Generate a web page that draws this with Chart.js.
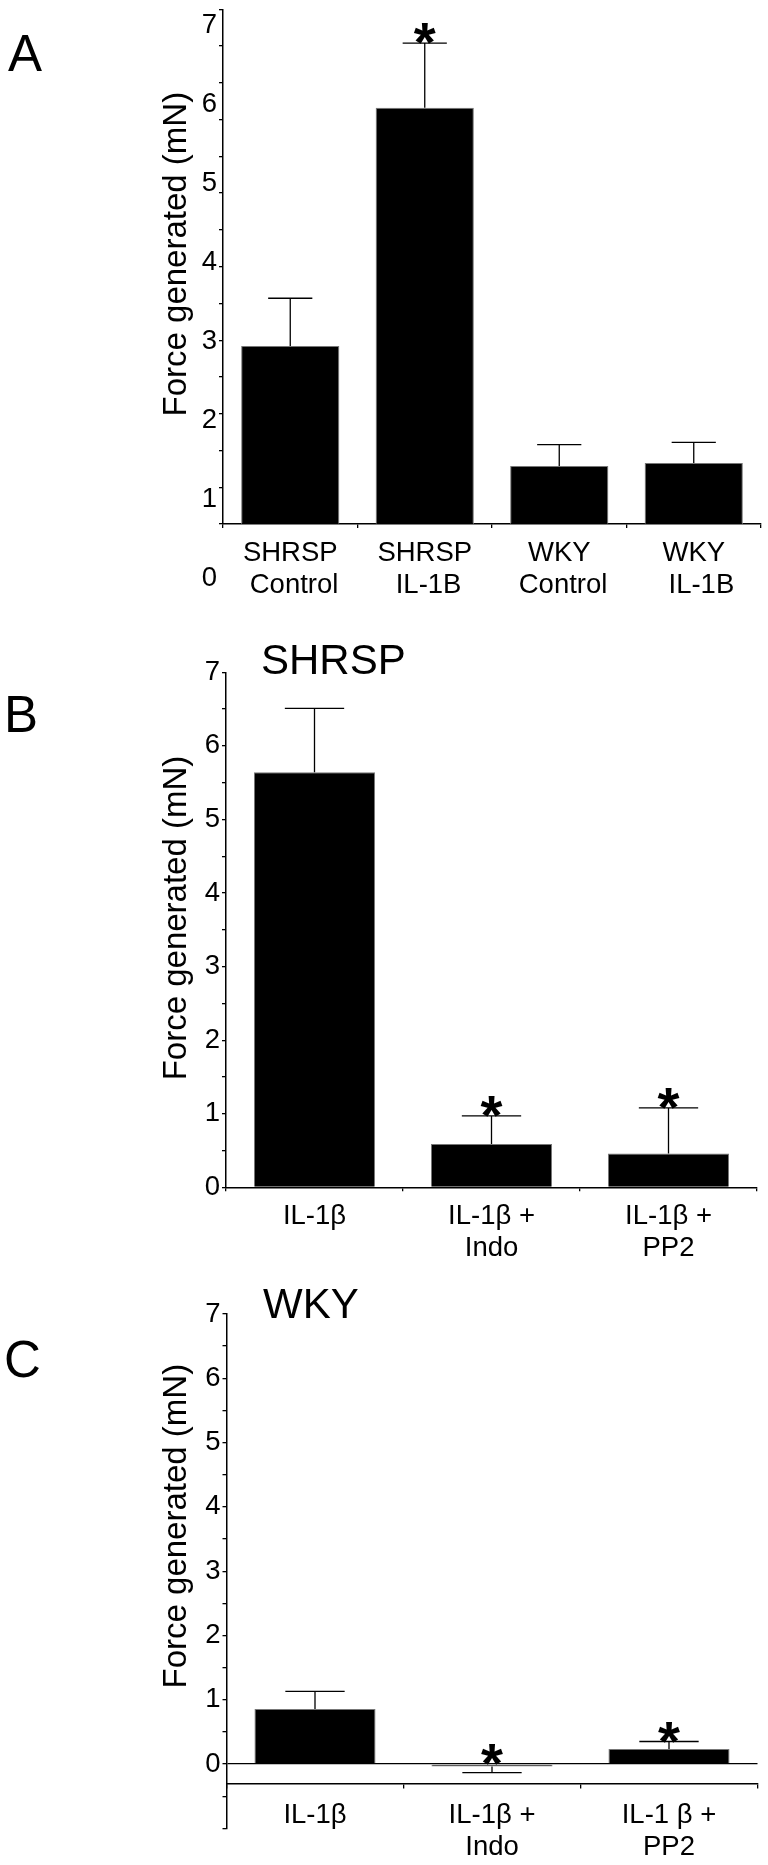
<!DOCTYPE html>
<html>
<head>
<meta charset="utf-8">
<script src="https://cdn.jsdelivr.net/npm/chart.js@4.4.1/dist/chart.umd.min.js"></script>
<style>
  html, body { margin: 0; padding: 0; background: #fff; }
  #page { position: relative; width: 768px; height: 1865px; overflow: hidden;
          font-family: 'Liberation Sans', Arial, sans-serif; color: #000; background: #fff; }
  canvas { position: absolute; left: 0; }
  .lbl { position: absolute; line-height: 1; white-space: nowrap; }
  .letter { font-size: 51px; }
  .ptitle { font-size: 42px; }
</style>
</head>
<body>
<div id="page">
  <canvas id="chartA" width="768" height="625" style="top:0px"></canvas>
  <canvas id="chartB" width="768" height="645" style="top:625px"></canvas>
  <canvas id="chartC" width="768" height="595" style="top:1270px"></canvas>
  <div class="lbl letter" style="left:8px; top:28px">A</div>
  <div class="lbl letter" style="left:4px; top:689px">B</div>
  <div class="lbl letter" style="left:4px; top:1334px">C</div>
  <div class="lbl ptitle" style="left:261px; top:639px">SHRSP</div>
  <div class="lbl ptitle" style="left:263px; top:1283px">WKY</div>
</div>
<script>
// panel A
const catsA = [['SHRSP', ' Control'], ['SHRSP', ' IL-1B'], ['WKY', ' Control'], ['WKY', '  IL-1B']];
const meanA = [2.92, 6.16, 1.29, 1.33];
const errA = [0.65, 0.88, 0.29, 0.28];
const starA = [false, true, false, false];

// panel B (SHRSP)
const catsB = ['IL-1β', ['IL-1β +', 'Indo'], ['IL-1β +', 'PP2']];
const meanB = [5.64, 0.59, 0.46];
const errB = [0.87, 0.38, 0.62];
const starB = [false, true, true];

// panel C (WKY)
const catsC = ['IL-1β', ['IL-1β +', 'Indo'], ['IL-1 β +', 'PP2']];
const meanC = [0.855, -0.04, 0.235];
const errC = [0.275, 0.095, 0.115];
const starC = [false, true, true];

const yLabels = [0, 1, 2, 3, 4, 5, 6, 7];
const yTitle = 'Force generated (mN)';

const FONT = "'Liberation Sans', Arial, sans-serif";
Chart.defaults.font.family = FONT;
Chart.defaults.color = '#000';

// error bars, stars and the rotated y title
const decor = {
  id: 'decor',
  afterDatasetsDraw(chart, args, o) {
    const ctx = chart.ctx, ys = chart.scales.y;
    const vals = chart.data.datasets[0].data;
    ctx.save();
    ctx.strokeStyle = '#000';
    ctx.lineWidth = 1.3;
    chart.getDatasetMeta(0).data.forEach((bar, i) => {
      const {x, width} = bar.getProps(['x', 'width'], true);
      const v = vals[i];
      const tip = v < 0 ? v - o.err[i] : v + o.err[i];
      const yb = ys.getPixelForValue(v), yt = ys.getPixelForValue(tip);
      const h = width * o.cap / 2;
      ctx.beginPath();
      ctx.moveTo(x, yb); ctx.lineTo(x, yt);
      ctx.moveTo(x - h, yt); ctx.lineTo(x + h, yt);
      ctx.stroke();
      if (o.star[i]) {
        const anchor = ys.getPixelForValue(v < 0 ? 0 : tip);
        ctx.font = 'bold 100px ' + FONT;
        let m = ctx.measureText('*');
        const size = 100 * 22 / (m.actualBoundingBoxLeft + m.actualBoundingBoxRight);
        ctx.font = 'bold ' + size + 'px ' + FONT;
        m = ctx.measureText('*');
        ctx.textAlign = 'left';
        ctx.textBaseline = 'alphabetic';
        ctx.fillStyle = '#000';
        const x0 = x - (m.actualBoundingBoxRight - m.actualBoundingBoxLeft) / 2;
        ctx.fillText('*', x0, anchor + 1 - m.actualBoundingBoxDescent);
      }
    });
    ctx.restore();
  },
  afterDraw(chart, args, o) {
    const ctx = chart.ctx, ys = chart.scales.y;
    ctx.save();
    ctx.translate(o.titleX, ys.getPixelForValue(o.titleAt));
    ctx.rotate(-Math.PI / 2);
    ctx.font = '33px ' + FONT;
    ctx.fillStyle = '#000';
    ctx.textAlign = 'center';
    ctx.textBaseline = 'alphabetic';
    ctx.fillText(yTitle, 0, 0);
    ctx.restore();
  }
};

function panel(id, cats, vals, err, star, p) {
  return new Chart(document.getElementById(id), {
    type: 'bar',
    data: {
      labels: cats,
      datasets: [{
        data: vals,
        backgroundColor: '#000',
        borderColor: '#777',
        borderWidth: 1,
        barPercentage: p.barPct,
        categoryPercentage: 1
      }]
    },
    options: {
      responsive: false,
      animation: false,
      devicePixelRatio: 1,
      layout: { padding: { left: 0, top: p.top, right: 768 - p.right, bottom: p.bottom } },
      plugins: {
        legend: { display: false },
        tooltip: { enabled: false },
        decor: { err: err, star: star, cap: p.cap, titleX: 186, titleAt: p.titleAt }
      },
      scales: {
        x: {
          type: 'category',
          offset: true,
          position: p.xPos,
          grid: { display: true, drawOnChartArea: false, drawTicks: true, tickLength: 4,
                  offset: true, color: '#000', lineWidth: 1.3 },
          border: { display: true, color: '#000', width: 1.5 },
          ticks: { font: { size: 27.5, lineHeight: 1.18 }, padding: p.xPad, maxRotation: 0,
                   minRotation: 0, autoSkip: false, color: '#000' },
          afterFit: s => { s.height = p.xh; s.paddingLeft = 0; s.paddingRight = 0; }
        },
        y: {
          type: 'linear', position: 'left', weight: 0,
          min: p.yMin, max: p.yMax,
          ticks: { display: false, stepSize: 0.5 },
          grid: { drawOnChartArea: !!p.zeroLine, drawTicks: true, tickLength: 4,
                  color: c => (p.zeroLine && c.tick && c.tick.value === 0) ? '#000' : 'rgba(0,0,0,0)',
                  tickColor: '#000', lineWidth: 1.3 },
          border: { display: true, color: '#000', width: 1.5 },
          afterFit: s => { s.width = 4; s.paddingTop = 0; s.paddingBottom = 0; }
        },
        yl: {
          type: 'linear', position: 'left', weight: 1,
          min: p.ylMin, max: p.ylMax,
          afterBuildTicks: s => { s.ticks = yLabels.map(v => ({ value: v })); },
          ticks: { font: { size: 27.5 }, padding: 2, color: '#000', autoSkip: false },
          grid: { display: false, drawTicks: false },
          border: { display: false },
          afterFit: s => { s.width = p.left - 4; s.paddingTop = 0; s.paddingBottom = 0; }
        }
      }
    },
    plugins: [decor]
  });
}

panel('chartA', catsA, meanA, errA, starA, {
  top: 9.3, bottom: 0, left: 223, right: 761, xh: 101, xPad: 8.7, xPos: 'bottom',
  yMin: 0.5, yMax: 7.5, ylMin: 0.684, ylMax: 7.2, barPct: 0.73, cap: 0.45, titleAt: 4.17
});
panel('chartB', catsB, meanB, errB, starB, {
  top: 47.3, bottom: 0, left: 226, right: 757, xh: 82.7, xPad: 8.6, xPos: 'bottom',
  yMin: 0, yMax: 7, ylMin: 0, ylMax: 7, barPct: 0.684, cap: 0.49, titleAt: 3.66
});
panel('chartC', catsC, meanC, errC, starC, {
  top: 44, bottom: 36.7, left: 226.5, right: 757.5, xh: 0, xPad: 11.5, xPos: { y: -0.3 },
  yMin: -1, yMax: 7, ylMin: -1, ylMax: 7, barPct: 0.684, cap: 0.49, titleAt: 3.7, zeroLine: true
});
</script>
</body>
</html>
